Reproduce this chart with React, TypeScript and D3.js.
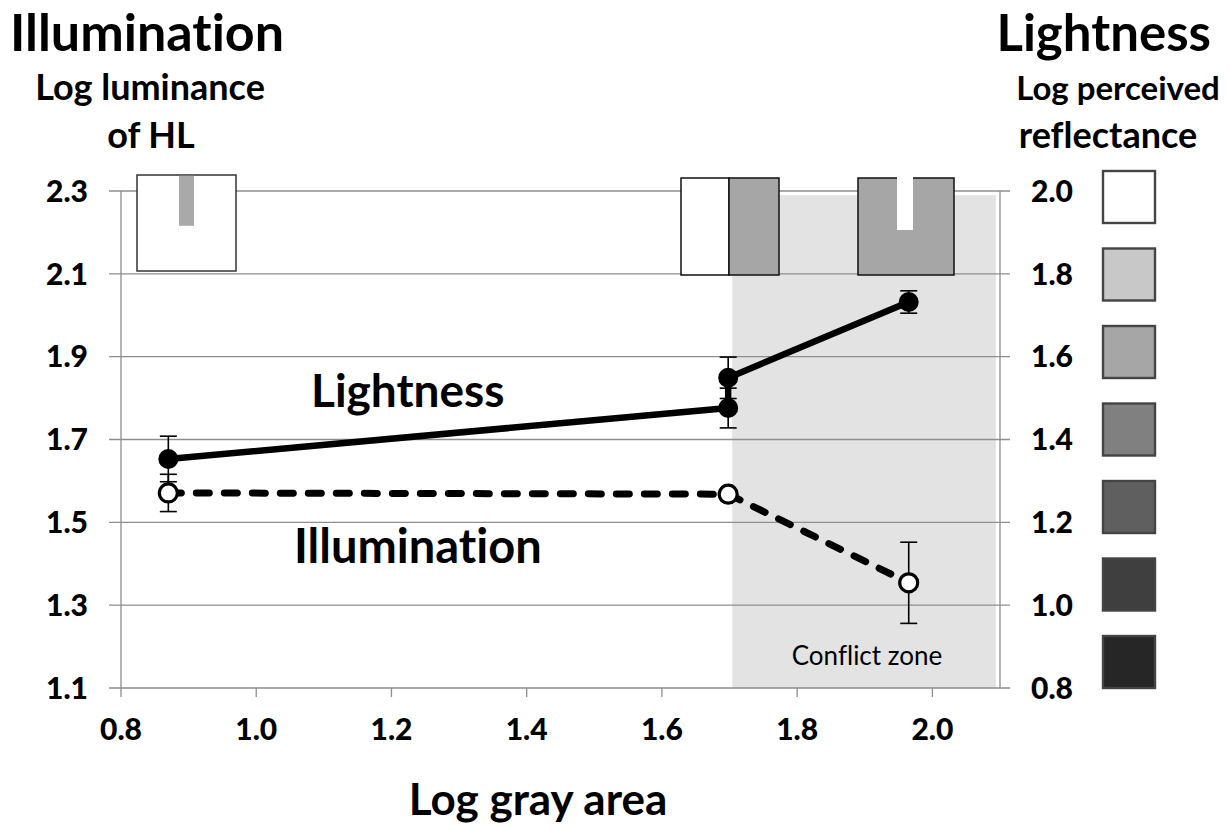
import React from "react";
import * as d3 from "d3";

const xTicks = [0.8, 1.0, 1.2, 1.4, 1.6, 1.8, 2.0];
const yTicksLeft = [1.1, 1.3, 1.5, 1.7, 1.9, 2.1, 2.3];
const yTicksRight = [0.8, 1.0, 1.2, 1.4, 1.6, 1.8, 2.0];

const lightX = [0.87, 1.698, 1.698, 1.965];
const lightY = [1.653, 1.776, 1.849, 2.032];
const lightErr = [0.055, 0.048, 0.05, 0.027];

const illumX = [0.87, 1.698, 1.965];
const illumY = [1.571, 1.568, 1.354];
const illumErr = [0.045, 0.008, 0.098];

const conflictZone = { x0: 1.704, x1: 2.094, y0: 1.1, y1: 2.29 };

const swatchColors = ["#ffffff", "#c8c8c8", "#a6a6a6", "#808080", "#5f5f5f", "#3f3f3f", "#262626"];

const FONT = "Lato, 'Open Sans', sans-serif";

export default function App() {
  const W = 1229, H = 830;
  const x = d3.scaleLinear().domain([0.8, 2.1]).range([121, 1000]);
  const yL = d3.scaleLinear().domain([1.1, 2.3]).range([688, 191]);
  const yR = d3.scaleLinear().domain([0.8, 2.0]).range([688, 191]);

  const light = lightX.map((v, i) => ({ x: v, y: lightY[i], e: lightErr[i] }));
  const illum = illumX.map((v, i) => ({ x: v, y: illumY[i], e: illumErr[i] }));
  const line = d3.line<{ x: number; y: number }>().x(d => x(d.x)).y(d => yL(d.y));

  const grid = "#8e8e8e";

  return (
    <svg width={W} height={H} style={{ position: "absolute", left: 0, top: 0, background: "#fff", fontVariantLigatures: "none" }} fontFamily={FONT}>
      <rect width={W} height={H} fill="#fff" />
      {/* conflict zone */}
      <rect x={x(conflictZone.x0)} y={yL(conflictZone.y1)} width={x(conflictZone.x1) - x(conflictZone.x0)}
        height={yL(conflictZone.y0) - yL(conflictZone.y1)} fill="#e3e3e3" />
      {/* gridlines */}
      {yTicksLeft.map(t => (
        <line key={t} x1={109} x2={1010} y1={yL(t)} y2={yL(t)} stroke={grid} strokeWidth={1.3} />
      ))}
      <line x1={x(0.8)} x2={x(0.8)} y1={yL(2.3)} y2={yL(1.1)} stroke={grid} strokeWidth={1.3} />
      <line x1={x(2.1)} x2={x(2.1)} y1={yL(2.3)} y2={yL(1.1)} stroke={grid} strokeWidth={1.3} />
      {xTicks.map(t => (
        <line key={t} x1={x(t)} x2={x(t)} y1={688} y2={697} stroke={grid} strokeWidth={1.3} />
      ))}
      {/* tick labels */}
      {yTicksLeft.map(t => (
        <text key={t} x={88} y={yL(t)} dy="0.36em" textAnchor="end" fontSize={30} fontWeight={900}>{t.toFixed(1)}</text>
      ))}
      {yTicksRight.map(t => (
        <text key={t} x={1031} y={yR(t)} dy="0.36em" textAnchor="start" fontSize={30} fontWeight={900}>{t.toFixed(1)}</text>
      ))}
      {xTicks.map(t => (
        <text key={t} x={x(t)} y={740} textAnchor="middle" fontSize={30} fontWeight={900}>{t.toFixed(1)}</text>
      ))}
      {/* insets */}
      <rect x={137} y={175} width={99} height={96} fill="#fff" stroke="#333" strokeWidth={1.5} />
      <rect x={179} y={175.8} width={15} height={50} fill="#a9a9a9" />
      <rect x={681} y={178} width={48} height={97} fill="#fff" stroke="#111" strokeWidth={1.5} />
      <rect x={729} y={178} width={50} height={97} fill="#a6a6a6" stroke="#111" strokeWidth={1.5} />
      <rect x={858} y={178} width={96} height={97} fill="#a6a6a6" stroke="#111" strokeWidth={1.5} />
      <rect x={897} y={177} width={16} height={53} fill="#fff" />
      {/* swatches */}
      {swatchColors.map((c, i) => (
        <rect key={i} x={1103} y={171 + i * 77.5} width={52} height={52} fill={c} stroke="#444" strokeWidth={2.4} />
      ))}
      {/* error bars */}
      {[...light, ...illum].map((d, i) => (
        <g key={i} stroke="#000" strokeWidth={1.6}>
          <line x1={x(d.x)} x2={x(d.x)} y1={yL(d.y - d.e)} y2={yL(d.y + d.e)} />
          <line x1={x(d.x) - 8.5} x2={x(d.x) + 8.5} y1={yL(d.y - d.e)} y2={yL(d.y - d.e)} />
          <line x1={x(d.x) - 8.5} x2={x(d.x) + 8.5} y1={yL(d.y + d.e)} y2={yL(d.y + d.e)} />
        </g>
      ))}
      {/* lines */}
      <path d={line(light) || ""} fill="none" stroke="#000" strokeWidth={6.5} />
      <path d={line(illum) || ""} fill="none" stroke="#000" strokeWidth={7} strokeDasharray="13 15" strokeLinecap="round" />
      {light.map((d, i) => (
        <circle key={i} cx={x(d.x)} cy={yL(d.y)} r={10} fill="#000" />
      ))}
      {illum.map((d, i) => (
        <circle key={i} cx={x(d.x)} cy={yL(d.y)} r={9} fill="#fff" stroke="#000" strokeWidth={3.2} />
      ))}
      {/* labels */}
      <text x={311} y={407} fontSize={46} fontWeight={700}>Lightness</text>
      <text x={294} y={563} fontSize={47} fontWeight={700}>Illumination</text>
      <text x={867} y={665} textAnchor="middle" fontSize={26}>Conflict zone</text>
      <text x={10} y={51} fontSize={52} fontWeight={700}>Illumination</text>
      <text x={150} y={100} textAnchor="middle" fontSize={36} fontWeight={700}>Log luminance</text>
      <text x={151} y={148} textAnchor="middle" fontSize={36} fontWeight={700}>of HL</text>
      <text x={1211} y={51} textAnchor="end" fontSize={51} fontWeight={700}>Lightness</text>
      <text x={1118} y={100} textAnchor="middle" fontSize={33} fontWeight={700}>Log perceived</text>
      <text x={1108} y={148} textAnchor="middle" fontSize={36} fontWeight={700}>reflectance</text>
      <text x={538} y={815} textAnchor="middle" fontSize={44} fontWeight={700}>Log gray area</text>
    </svg>
  );
}
